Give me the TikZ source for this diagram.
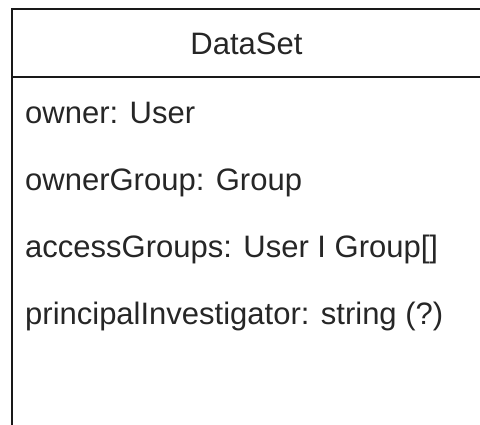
\documentclass[tikz,border=0pt]{standalone}
\usepackage{fontspec}
\setmainfont{Liberation Sans}
\begin{document}
\begin{tikzpicture}[x=1pt,y=-1pt,
  classline/.style={line width=2pt,draw=black!90},
  title/.style={anchor=base,inner sep=0pt,font=\fontsize{31}{37}\selectfont,text=black!85},
  attr/.style={anchor=base west,inner sep=0pt,font=\fontsize{31}{37}\selectfont,text=black!85}]
  \useasboundingbox (0,0) rectangle (480,425);
  \clip (0,0) rectangle (480,425);
  % class box, running off the right and bottom edges
  \coordinate (tl) at (11.5,9.5);
  \coordinate (tr) at (484,9.5);
  \coordinate (bl) at (11.5,430);
  \coordinate (dl) at (11.5,77.5);
  \coordinate (dr) at (484,77.5);
  \draw[classline] (bl) -- (tl) -- (tr);
  \draw[classline] (dl) -- (dr);
  % class name
  \node[title] (name) at (246.5,54.3) {DataSet};
  % attributes
  \node[attr] (a1) at (25,123.3) {owner: User};
  \node[attr] (a2) at (25,190.5) {ownerGroup: Group};
  \node[attr] (a3) at (25,257.7) {accessGroups: User I Group[]};
  \node[attr] (a4) at (25,324.9) {principalInvestigator: string (?)};
\end{tikzpicture}
\end{document}
